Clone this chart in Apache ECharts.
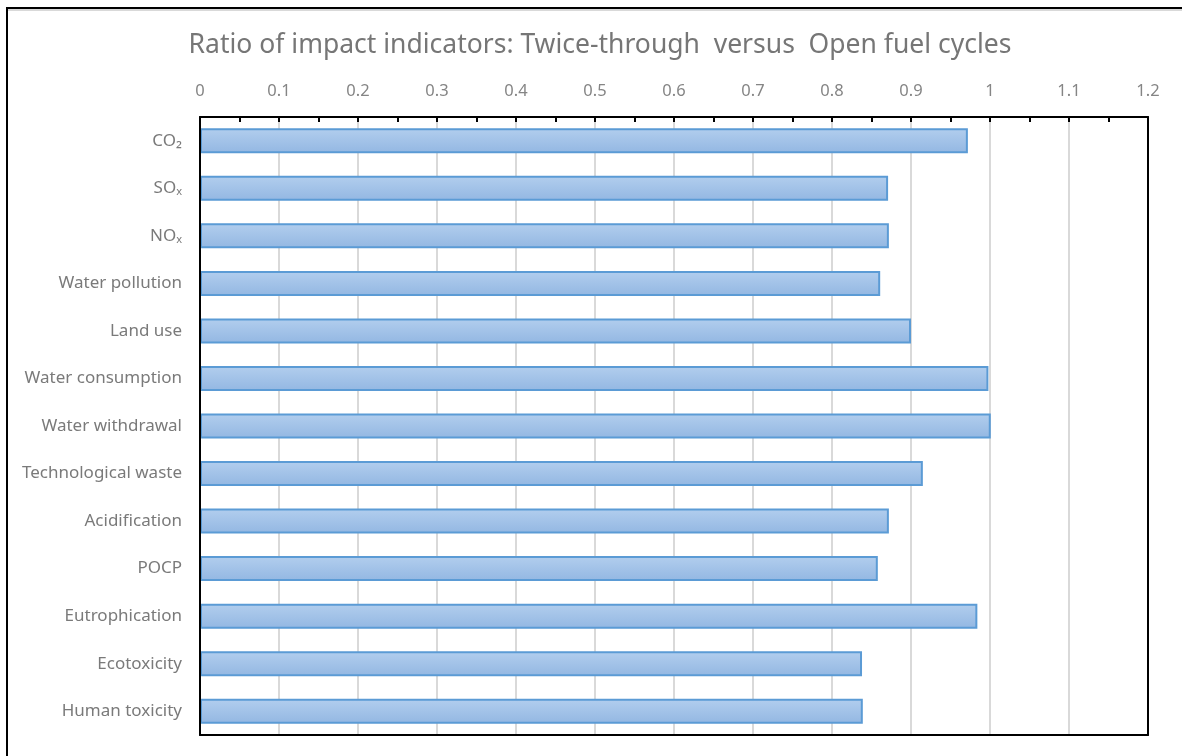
<!DOCTYPE html>
<html>
<head>
<meta charset="utf-8">
<title>Ratio of impact indicators</title>
<script src="https://cdn.jsdelivr.net/npm/echarts@6/dist/echarts.min.js"></script>
<style>
  html, body { margin: 0; padding: 0; background: #ffffff; }
  #chart { width: 1182px; height: 756px; }
</style>
</head>
<body>
<div id="chart"></div>
<script>
// Impact indicators, listed top to bottom
const categories = [
  'CO\u2082', 'SO\u2093', 'NO\u2093', 'Water pollution', 'Land use',
  'Water consumption', 'Water withdrawal', 'Technological waste',
  'Acidification', 'POCP', 'Eutrophication', 'Ecotoxicity', 'Human toxicity'
];

// Twice-through / Open cycle ratio for each indicator
const ratios = [
  0.972, 0.871, 0.872, 0.861, 0.900,
  0.998, 1.001, 0.915,
  0.872, 0.858, 0.984, 0.838, 0.839
];

// Value axis tick labels
const xTickLabels = ['0', '0.1', '0.2', '0.3', '0.4', '0.5', '0.6', '0.7', '0.8', '0.9', '1', '1.1', '1.2'];

const titleText = 'Ratio of impact indicators: Twice-through  versus  Open fuel cycles';
const fontFamily = '"Noto Sans", "Open Sans", sans-serif';
const frameLine = { show: true, onZero: false, lineStyle: { color: '#000000', width: 2 } };

const chart = echarts.init(document.getElementById('chart'), null, { renderer: 'canvas' });

chart.setOption({
  backgroundColor: '#ffffff',
  animation: false,
  title: {
    text: titleText,
    left: 595,
    textAlign: 'center',
    top: 27,
    textStyle: { color: '#767676', fontSize: 26.5, fontWeight: 'normal', fontFamily: fontFamily }
  },
  grid: { left: 200, right: 34, top: 117, bottom: 21 },
  xAxis: [{
    type: 'value',
    position: 'top',
    min: 0, max: 1.2, interval: 0.1,
    axisLine: frameLine,
    axisTick: { show: true, inside: true, length: 5, lineStyle: { color: '#000000', width: 2 } },
    minorTick: { show: true, splitNumber: 2, length: 5, lineStyle: { color: '#000000', width: 2 } },
    splitLine: { show: true, lineStyle: { color: '#d9d9d9', width: 2 } },
    axisLabel: {
      margin: 17,
      color: '#858585', fontSize: 16.5, fontFamily: fontFamily,
      formatter: function (v) { return xTickLabels[Math.round(v * 10)]; }
    }
  }, {
    // bottom edge of the plot frame
    type: 'value',
    position: 'bottom',
    min: 0, max: 1.2, interval: 0.1,
    axisLine: frameLine,
    axisTick: { show: false },
    axisLabel: { show: false },
    splitLine: { show: false },
    z: 3
  }],
  yAxis: [{
    type: 'category',
    data: categories,
    inverse: true,
    axisLine: frameLine,
    axisTick: { show: false },
    axisLabel: { margin: 18, color: '#7a7a7a', fontSize: 17, fontFamily: fontFamily },
    z: 3
  }, {
    // right edge of the plot frame
    type: 'category',
    data: categories,
    inverse: true,
    position: 'right',
    axisLine: frameLine,
    axisTick: { show: false },
    axisLabel: { show: false },
    splitLine: { show: false },
    z: 3
  }],
  series: [{
    type: 'bar',
    xAxisIndex: 0,
    yAxisIndex: 0,
    data: ratios,
    barWidth: 25,
    itemStyle: {
      color: new echarts.graphic.LinearGradient(0, 0, 0, 1, [
        { offset: 0, color: '#b2ceee' },
        { offset: 1, color: '#93b7e2' }
      ]),
      borderColor: '#5b9bd5',
      borderWidth: 2
    }
  }],
  graphic: [
    { type: 'line', shape: { x1: 6, y1: 8, x2: 1182, y2: 8 }, style: { stroke: '#000000', lineWidth: 2 } },
    { type: 'line', shape: { x1: 7, y1: 10, x2: 1182, y2: 10 }, style: { stroke: '#d9d9d9', lineWidth: 2 } },
    { type: 'line', shape: { x1: 7, y1: 8, x2: 7, y2: 756 }, style: { stroke: '#000000', lineWidth: 2 } }
  ]
});
</script>
</body>
</html>
